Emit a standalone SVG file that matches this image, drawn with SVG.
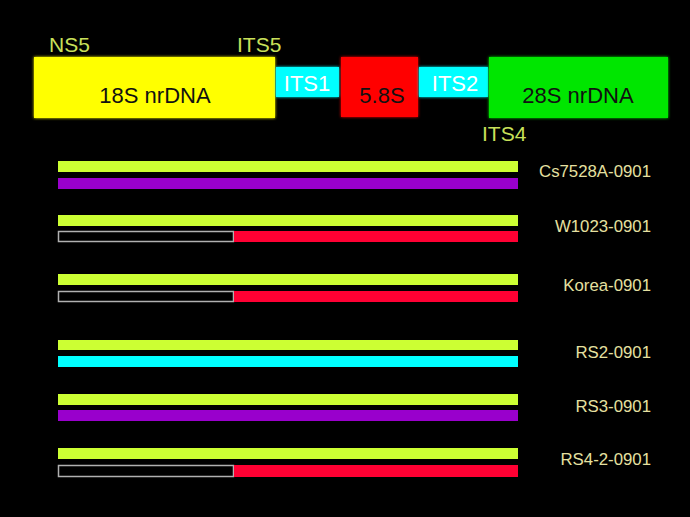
<svg xmlns="http://www.w3.org/2000/svg" width="690" height="517" viewBox="0 0 690 517">
<defs>
<style>
.lbl{font-family:"Liberation Sans",Arial,sans-serif;font-size:21px;fill:#c9e05a}
.box{font-family:"Liberation Sans",Arial,sans-serif;font-size:22px;text-anchor:middle}
.name{font-family:"Liberation Sans",Arial,sans-serif;font-size:16.8px;fill:#e6e0a0;text-anchor:end}
.g{fill:#ccff33}
.p{fill:#9900cc}
.r{fill:#ff0033}
.c{fill:#00ffff}
.o{fill:none;stroke:#b0b0b0;stroke-width:1.5}
</style>
<filter id="soft" x="-10%" y="-20%" width="120%" height="140%">
<feGaussianBlur in="SourceGraphic" stdDeviation="1.5" result="b"/>
<feMerge><feMergeNode in="b"/><feMergeNode in="SourceGraphic"/></feMerge>
</filter>
</defs>
<rect x="0" y="0" width="690" height="517" fill="#000"/>
<g id="n18S">
<rect x="34" y="57" width="241" height="61" fill="#ffff00" filter="url(#soft)"/>
<text class="box" x="155" y="103" fill="#111">18S nrDNA</text>
</g>
<g id="nITS1">
<rect x="276" y="67" width="63" height="30" fill="#00ffff" filter="url(#soft)"/>
<text class="box" x="307" y="91" fill="#ffffff">ITS1</text>
</g>
<g id="n58S">
<rect x="341" y="57" width="77" height="60" fill="#ff0000" filter="url(#soft)"/>
<text class="box" x="382" y="103" fill="#111">5.8S</text>
</g>
<g id="nITS2">
<rect x="419" y="67" width="69" height="30" fill="#00ffff" filter="url(#soft)"/>
<text class="box" x="455" y="91" fill="#ffffff">ITS2</text>
</g>
<g id="n28S">
<rect x="489" y="57" width="179" height="61" fill="#00e600" filter="url(#soft)"/>
<text class="box" x="578" y="103" fill="#111">28S nrDNA</text>
</g>
<g id="primers">
<text class="lbl" x="49" y="52">NS5</text>
<text class="lbl" x="237" y="52">ITS5</text>
<text class="lbl" x="482" y="141">ITS4</text>
</g>
<g id="row1">
<rect class="g" x="58" y="161" width="460" height="11"/>
<rect class="p" x="58" y="178" width="460" height="11"/>
<text class="name" x="651" y="177">Cs7528A-0901</text>
</g>
<g id="row2">
<rect class="g" x="58" y="215" width="460" height="11"/>
<rect class="o" x="58.5" y="231.5" width="175" height="10"/>
<rect class="r" x="234" y="231" width="284" height="11"/>
<text class="name" x="651" y="232">W1023-0901</text>
</g>
<g id="row3">
<rect class="g" x="58" y="274" width="460" height="11"/>
<rect class="o" x="58.5" y="291.5" width="175" height="10"/>
<rect class="r" x="234" y="291" width="284" height="11"/>
<text class="name" x="651" y="291">Korea-0901</text>
</g>
<g id="row4">
<rect class="g" x="58" y="340" width="460" height="10"/>
<rect class="c" x="58" y="356" width="460" height="11"/>
<text class="name" x="651" y="358">RS2-0901</text>
</g>
<g id="row5">
<rect class="g" x="58" y="394" width="460" height="11"/>
<rect class="p" x="58" y="410" width="460" height="11"/>
<text class="name" x="651" y="412">RS3-0901</text>
</g>
<g id="row6">
<rect class="g" x="58" y="448" width="460" height="11"/>
<rect class="o" x="58.5" y="465.5" width="175" height="11"/>
<rect class="r" x="234" y="465" width="284" height="12"/>
<text class="name" x="651" y="465">RS4-2-0901</text>
</g>
</svg>
